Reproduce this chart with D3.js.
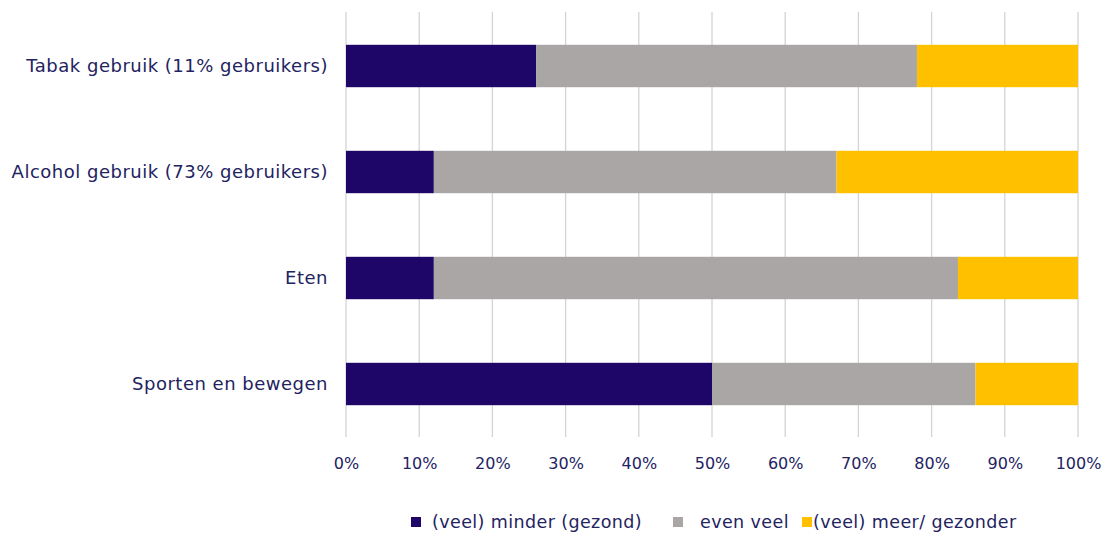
<!DOCTYPE html>
<html><head><meta charset="utf-8">
<script src="https://cdn.jsdelivr.net/npm/d3@7"></script>
<style>body{margin:0;background:#fff;} svg{display:block;} text{font-family:"DejaVu Sans",Verdana,sans-serif;fill:#1f1f5c;}</style>
</head><body>
<svg id="c" width="1105" height="534"></svg>
<script>
const categories = ["Tabak gebruik (11% gebruikers)","Alcohol gebruik (73% gebruikers)","Eten","Sporten en bewegen"];
const seriesNames = ["(veel) minder (gezond)","even veel","(veel) meer/ gezonder"];
const minder = [26, 12, 12, 50];
const evenVeel = [52, 55, 71.6, 36];
const meer = [22, 33, 16.4, 14];
const ticks = [0,10,20,30,40,50,60,70,80,90,100];
const colors = ["#1e0568","#aba6a6","#ffc000"];

const svg = d3.select("#c");
const x = d3.scaleLinear().domain([0,100]).range([346,1078]);
const y = d3.scaleBand().domain(categories).range([13,437]).paddingInner(0.6).paddingOuter(0.3);

svg.append("g").selectAll("line").data(ticks).join("line")
  .attr("x1",d=>x(d)).attr("x2",d=>x(d)).attr("y1",12).attr("y2",437)
  .attr("stroke","#d4d4d4").attr("stroke-width",1.3);

const series = [minder, evenVeel, meer];
const data = categories.map((c,i)=>({cat:c, v:series.map(s=>s[i])}));
const stack = d3.stack().keys([0,1,2]).value((d,k)=>d.v[k])(data);

svg.append("g").selectAll("g").data(stack).join("g").attr("fill",(d,i)=>colors[i])
  .selectAll("rect").data(d=>d).join("rect")
  .attr("x",d=>x(d[0])).attr("width",d=>x(d[1])-x(d[0]))
  .attr("y",d=>y(d.data.cat)).attr("height",y.bandwidth());

const ya = svg.append("g").attr("transform","translate(346,0)").call(d3.axisLeft(y).tickSize(0).tickPadding(18));
ya.select(".domain").remove();
ya.selectAll("text").style("font-size","18px").style("letter-spacing","0.5px").style("fill","#23235f").style("font-family","'DejaVu Sans',Verdana,sans-serif");

const xa = svg.append("g").attr("transform","translate(0,437)").call(d3.axisBottom(x).tickValues(ticks).tickFormat(d=>d+"%").tickSize(0).tickPadding(21));
xa.select(".domain").remove();
xa.selectAll("text").style("font-size","16px").style("fill","#23235f").style("font-family","'DejaVu Sans',Verdana,sans-serif");

const legSq = [411, 673, 802];
const legTx = [432, 700, 813];
const lg = svg.append("g");
seriesNames.forEach((n,i)=>{
  lg.append("rect").attr("x",legSq[i]).attr("y",517).attr("width",10).attr("height",10).attr("fill",colors[i]);
  lg.append("text").attr("x",legTx[i]).attr("y",522).attr("dy","0.35em").style("font-size","17.5px").style("letter-spacing","0.4px").style("fill","#23235f").text(n);
});
</script>
</body></html>
